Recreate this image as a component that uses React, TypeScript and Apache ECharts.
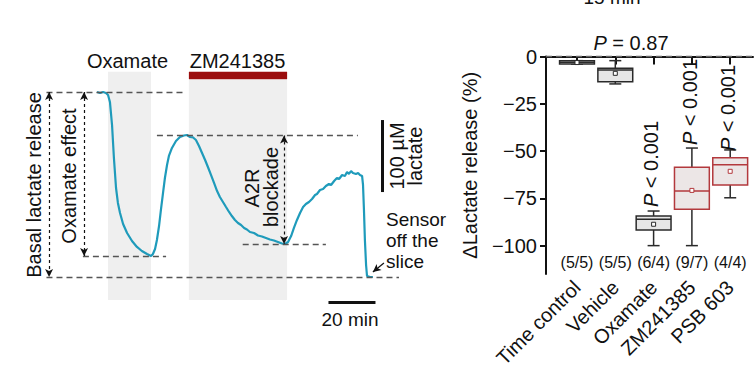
import React, { useEffect, useRef } from 'react';
import * as echarts from 'echarts';

const FONT = '"Liberation Sans", Arial, Helvetica, sans-serif';
const INK = '#111111';

// ---- Left panel: lactate sensor trace (time in min, lactate in µM) ----
const traceTime = [
  0, 1.3, 2.6, 3.8, 4.7, 5.5, 6.4, 7.2, 8.1, 8.9, 9.8, 11.1, 12.8, 14.9, 17.0, 19.1, 21.3, 23.0,
  23.8, 24.7, 25.5, 26.4, 27.2, 28.1, 28.9, 29.8, 30.6, 31.9, 33.6, 35.3, 37.0, 38.3, 39.6, 40.9,
  42.1, 43.4, 44.7, 46.0, 47.2, 48.5, 49.8, 51.1, 52.3, 53.6, 54.9, 56.2, 57.4, 58.7, 60.0, 61.3,
  62.6, 63.8, 65.1, 66.8, 68.5, 70.2, 71.9, 73.6, 75.3, 77.0, 78.7, 80.0, 81.3, 82.6, 83.8, 85.1,
  86.4, 87.7, 88.9, 90.2, 91.5, 92.8, 93.6, 94.9, 96.2, 97.4, 98.7, 99.6, 100.9, 102.1, 103.0,
  104.3, 105.5, 106.4, 107.2, 108.1, 108.9, 110.2, 111.1, 111.9, 112.8, 113.2, 113.6, 114.0,
  114.5, 114.9, 116.2, 117.4,
];
const traceLactate = [
  256.9, 255.6, 256.9, 255.6, 252.8, 243.1, 211.1, 165.3, 123.6, 102.8, 88.9, 73.6, 61.1, 50.0,
  41.7, 36.1, 31.9, 29.2, 31.9, 38.9, 51.4, 70.8, 93.1, 116.7, 137.5, 155.6, 168.1, 179.2, 188.9,
  194.4, 196.5, 197.2, 194.4, 193.8, 190.3, 181.9, 172.2, 162.5, 152.8, 141.7, 130.6, 119.4,
  111.1, 104.2, 97.2, 90.3, 84.7, 79.2, 75.0, 72.2, 68.1, 66.0, 62.5, 61.1, 57.6, 56.3, 54.2,
  52.1, 50.7, 48.6, 46.5, 45.8, 48.6, 56.9, 68.1, 79.2, 88.9, 97.2, 101.4, 104.2, 108.3, 113.9,
  115.3, 120.8, 122.2, 126.4, 129.2, 127.8, 133.3, 137.5, 136.1, 141.7, 140.3, 145.8, 143.1,
  147.2, 144.4, 143.1, 144.4, 141.7, 140.3, 127.8, 93.1, 51.4, 16.7, 1.4, 0, 0,
];
const oxamateWindow = [4.7, 23.0];
const zmWindow = [39.1, 80.9];
const basalLevel = 257;
const peakLevel = 196.5;
const oxamateMinLevel = 29.2;
const a2rMinLevel = 45.8;
const offSliceLevel = 0;
const scaleBarLactate = 100; // µM
const scaleBarTime = 20; // min

// ---- Right panel: box plot of Δ lactate release (%) ----
const categories = ['Time control', 'Vehicle', 'Oxamate', 'ZM241385', 'PSB 603'];
const whiskerLow = [-4.0, -14.5, -100, -100, -74.7];
const quartile1 = [-4.0, -13.3, -91.7, -80.8, -68.0];
const medians = [-3.0, -7.1, -86.1, -71.1, -57.2];
const quartile3 = [-2.2, -6.2, -84.3, -58.6, -53.5];
const whiskerHigh = [-2.2, -2.2, -81.7, -48.4, -49.4];
const means = [-3.2, -8.9, -88.7, -70.8, -60.7];
const highlighted = [0, 0, 0, 1, 1];
const nLabels = ['(5/5)', '(5/5)', '(6/4)', '(9/7)', '(4/4)'];
const yTicks = [0, -25, -50, -75, -100];

const txt = (text: string, x: number, y: number, opts: any = {}) => ({
  type: 'text',
  x,
  y,
  z: 100,
  rotation: opts.rotation || 0,
  silent: true,
  style: {
    text,
    fontSize: opts.fontSize || 20,
    fontFamily: FONT,
    fill: INK,
    align: opts.align || 'center',
    verticalAlign: 'middle',
    lineHeight: opts.lineHeight,
    rich: opts.rich,
  },
});

const italicP = { i: { fontStyle: 'italic', fontSize: 20, fontFamily: FONT, fill: INK } };

export default function App() {
  const ref = useRef<HTMLDivElement>(null);
  useEffect(() => {
    if (!ref.current) return;
    const chart = echarts.init(ref.current, undefined, { renderer: 'svg' });
    const trace = traceTime.map((t, i) => [t, traceLactate[i]]);
    const boxData = categories.map((_, i) => [
      i, whiskerLow[i], quartile1[i], medians[i], quartile3[i], whiskerHigh[i], means[i], highlighted[i],
    ]);
    const xRight = 117.4;
    const scaleX = 121.3;
    const scaleBase = 118;
    const timeBarY = -34.7;
    const timeBarStart = 98.5;

    const option: any = {
      animation: false,
      grid: [
        { left: 38.25, top: 39.4, width: 387.75, height: 280.8 },
        { left: 546, top: 56.5, width: 207, height: 217.5 },
        { left: 557.85, top: 56.5, width: 191.5, height: 217.5 },
      ],
      xAxis: [
        { gridIndex: 0, type: 'value', min: -25, max: 140, show: false },
        {
          gridIndex: 1, type: 'value', min: 0, max: 1,
          axisLine: { show: true, lineStyle: { color: INK, width: 2 } },
          axisTick: { show: false }, axisLabel: { show: false }, splitLine: { show: false },
        },
        {
          gridIndex: 2, type: 'category', data: categories,
          axisLine: { show: false },
          axisTick: { show: true, alignWithLabel: true, length: 8, lineStyle: { color: INK, width: 2 } },
          axisLabel: { rotate: 45, interval: 0, fontSize: 20, fontFamily: FONT, color: INK, margin: 10 },
        },
      ],
      yAxis: [
        { gridIndex: 0, type: 'value', min: -60, max: 330, show: false },
        {
          gridIndex: 1, type: 'value', min: -115, max: 0,
          axisLine: { show: true, lineStyle: { color: INK, width: 2 } },
          axisTick: { show: true, length: 6, customValues: yTicks, lineStyle: { color: INK, width: 2 } },
          axisLabel: {
            customValues: yTicks, fontSize: 20, fontFamily: FONT, color: INK, margin: 9,
            formatter: (v: number) => (v < 0 ? '\u2212' + Math.abs(v) : String(v)),
          },
          splitLine: { show: false },
          name: '\u0394Lactate release (%)', nameLocation: 'middle', nameGap: 66,
          nameTextStyle: { fontSize: 20, fontFamily: FONT, color: INK },
        },
        { gridIndex: 2, type: 'value', min: -115, max: 0, show: false },
      ],
      series: [
        {
          type: 'line', xAxisIndex: 0, yAxisIndex: 0, data: trace, showSymbol: false, z: 3,
          lineStyle: { color: '#1f9bbb', width: 2.2 }, silent: true,
          markArea: {
            silent: true,
            itemStyle: { color: '#efefef' },
            data: [
              [{ coord: [oxamateWindow[0], -32] }, { coord: [oxamateWindow[1], 285] }],
              [{ coord: [zmWindow[0], -32] }, { coord: [zmWindow[1], 274] }],
              [{ coord: [zmWindow[0], 274.5], itemStyle: { color: '#9b0d0d' } }, { coord: [zmWindow[1], 285] }],
            ],
          },
        },
        {
          type: 'line', xAxisIndex: 0, yAxisIndex: 0, data: [], silent: true,
          markLine: {
            silent: true, symbol: ['none', 'none'], label: { show: false },
            lineStyle: { type: [6, 4], color: '#555', width: 1.3 },
            data: [
              [{ coord: [-21.5, basalLevel] }, { coord: [36.6, basalLevel] }],
              [{ coord: [25.5, peakLevel] }, { coord: [111, peakLevel] }],
              [{ coord: [-6, oxamateMinLevel] }, { coord: [29.4, oxamateMinLevel] }],
              [{ coord: [62, a2rMinLevel] }, { coord: [97.4, a2rMinLevel] }],
              [{ coord: [-21.5, offSliceLevel] }, { coord: [128.5, offSliceLevel] }],
            ],
          },
        },
        {
          type: 'line', xAxisIndex: 0, yAxisIndex: 0, data: [], silent: true,
          markLine: {
            silent: true, symbol: ['arrow', 'arrow'], symbolSize: [6, 8], label: { show: false },
            lineStyle: { type: [3, 3], color: INK, width: 1.2 },
            data: [
              [{ coord: [-20.4, basalLevel] }, { coord: [-20.4, offSliceLevel] }],
              [{ coord: [-5.5, basalLevel] }, { coord: [-5.5, oxamateMinLevel] }],
              [{ coord: [79.6, peakLevel] }, { coord: [79.6, a2rMinLevel] }],
            ],
          },
        },
        {
          type: 'line', xAxisIndex: 0, yAxisIndex: 0, data: [], silent: true,
          markLine: {
            silent: true, symbol: ['none', 'none'], label: { show: false },
            lineStyle: { type: 'solid', color: INK, width: 3 },
            data: [
              [{ coord: [scaleX, scaleBase] }, { coord: [scaleX, scaleBase + scaleBarLactate] }],
              [{ coord: [timeBarStart, timeBarY] }, { coord: [timeBarStart + scaleBarTime, timeBarY] }],
            ],
          },
        },
        {
          type: 'line', xAxisIndex: 0, yAxisIndex: 0, data: [], silent: true,
          markLine: {
            silent: true, symbol: ['none', 'arrow'], symbolSize: [6, 8], label: { show: false },
            lineStyle: { type: 'solid', color: INK, width: 1.2 },
            data: [[{ coord: [122.1, 19.4] }, { coord: [xRight, 6.9] }]],
          },
        },
        {
          type: 'line', xAxisIndex: 1, yAxisIndex: 1, data: [], silent: true,
          markLine: {
            silent: true, symbol: ['none', 'none'], label: { show: false },
            lineStyle: { type: [6, 4], color: '#666', width: 1.3 },
            data: [{ yAxis: 0 }],
          },
        },
        {
          type: 'custom', xAxisIndex: 2, yAxisIndex: 2, data: boxData, silent: true,
          encode: { x: 0, y: [1, 2, 3, 4, 5] },
          renderItem: (params: any, api: any) => {
            const i = api.value(0);
            const cx = api.coord([i, 0])[0];
            const yLo = api.coord([i, api.value(1)])[1];
            const yQ1 = api.coord([i, api.value(2)])[1];
            const yMed = api.coord([i, api.value(3)])[1];
            const yQ3 = api.coord([i, api.value(4)])[1];
            const yHi = api.coord([i, api.value(5)])[1];
            const yMean = api.coord([i, api.value(6)])[1];
            const yN = api.coord([i, -108.7])[1];
            const red = api.value(7) === 1;
            const band = api.size([1, 0])[0];
            const bw = band * 0.91;
            const cap = 12;
            const stroke = red ? '#b3393d' : '#2a2a2a';
            const fill = red ? '#ece6e6' : '#e6e6e6';
            const wk = { stroke: '#2a2a2a', lineWidth: 1.5 };
            return {
              type: 'group',
              children: [
                { type: 'line', shape: { x1: cx, y1: yHi, x2: cx, y2: yQ3 }, style: wk },
                { type: 'line', shape: { x1: cx, y1: yQ1, x2: cx, y2: yLo }, style: wk },
                { type: 'line', shape: { x1: cx - cap / 2, y1: yHi, x2: cx + cap / 2, y2: yHi }, style: wk },
                { type: 'line', shape: { x1: cx - cap / 2, y1: yLo, x2: cx + cap / 2, y2: yLo }, style: wk },
                {
                  type: 'rect', shape: { x: cx - bw / 2, y: yQ3, width: bw, height: yQ1 - yQ3 },
                  style: { fill, stroke, lineWidth: 1.5 },
                },
                {
                  type: 'line', shape: { x1: cx - bw / 2, y1: yMed, x2: cx + bw / 2, y2: yMed },
                  style: { stroke, lineWidth: 1.5 },
                },
                {
                  type: 'rect', shape: { x: cx - 2, y: yMean - 2, width: 4, height: 4 },
                  style: { fill: '#ffffff', stroke, lineWidth: 1 },
                },
                {
                  type: 'text', x: cx, y: yN,
                  style: {
                    text: nLabels[params.dataIndex], fontSize: 16, fontFamily: FONT, fill: INK,
                    align: 'center', verticalAlign: 'middle',
                  },
                },
              ],
            };
          },
        },
      ],
      graphic: [
        txt('15 min', 612, -3, { fontSize: 19 }),
        txt('Oxamate', 127.5, 61),
        txt('ZM241385', 237.5, 61),
        txt('Basal lactate release', 33.5, 185, { rotation: Math.PI / 2 }),
        txt('Oxamate effect', 69, 176, { rotation: Math.PI / 2 }),
        txt('A2R', 251.5, 188, { rotation: Math.PI / 2 }),
        txt('blockade', 270.5, 187, { rotation: Math.PI / 2 }),
        txt('100 \u00b5M', 397, 156, { rotation: Math.PI / 2 }),
        txt('lactate', 415, 156, { rotation: Math.PI / 2 }),
        txt('Sensor\noff the\nslice', 386, 240, { align: 'left', fontSize: 19, lineHeight: 21 }),
        txt('20 min', 350, 319, { fontSize: 19 }),
        txt('{i|P} = 0.87', 631, 43, { rich: italicP }),
        txt('{i|P} < 0.001', 651, 164, { rotation: Math.PI / 2, rich: italicP }),
        txt('{i|P} < 0.001', 690, 102, { rotation: Math.PI / 2, rich: italicP }),
        txt('{i|P} < 0.001', 728, 108, { rotation: Math.PI / 2, rich: italicP }),
      ],
    };
    chart.setOption(option);
    return () => chart.dispose();
  }, []);
  return (
    <div
      ref={ref}
      style={{ position: 'absolute', left: 0, top: 0, width: 754, height: 380, background: '#fff' }}
    />
  );
}
